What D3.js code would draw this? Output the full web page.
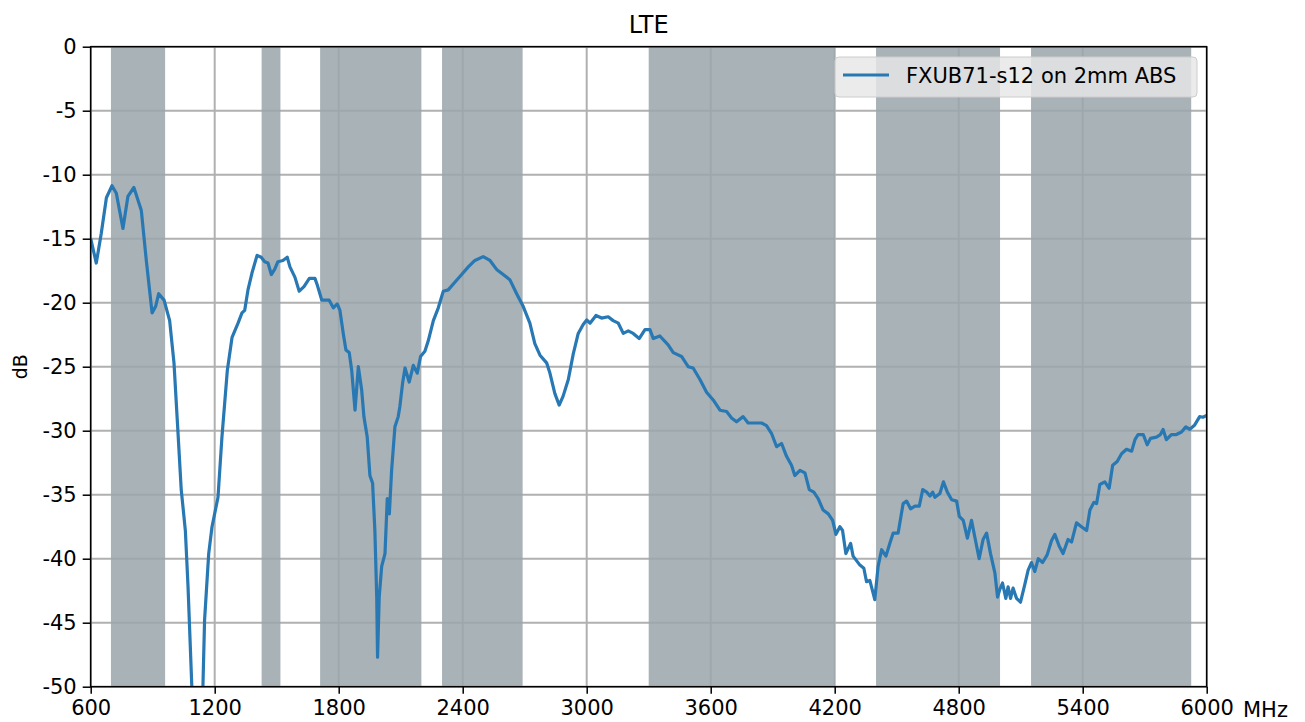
<!DOCTYPE html>
<html>
<head>
<meta charset="utf-8">
<script src="https://cdn.jsdelivr.net/npm/d3@7"></script>
<style>
  body { margin: 0; background: #fff; }
  svg { font-family: "DejaVu Sans", sans-serif; }
</style>
</head>
<body>
<svg width="1305" height="722"></svg>
<script>
// measured curve (MHz, dB)
var freqs = [600, 627, 651, 676, 703, 724, 756, 780, 809, 845, 869, 897, 914, 929, 955, 982, 1003, 1019, 1038, 1058,
  1071, 1090, 1116, 1143, 1151, 1171, 1187, 1216, 1235, 1261, 1284, 1313, 1332, 1345, 1361, 1380, 1405, 1425, 1442, 1458,
  1474, 1490, 1506, 1530, 1551, 1564, 1588, 1609, 1632, 1658, 1685, 1696, 1718, 1754, 1774, 1793, 1806, 1822, 1835, 1851,
  1863, 1879, 1895, 1911, 1922, 1938, 1951, 1964, 1975, 1984, 1988, 1996, 2008, 2024, 2035, 2045, 2056, 2072, 2088, 2096,
  2109, 2121, 2141, 2161, 2180, 2196, 2217, 2233, 2258, 2282, 2306, 2330, 2362, 2395, 2427, 2459, 2499, 2532, 2564, 2596,
  2628, 2661, 2693, 2725, 2749, 2774, 2806, 2822, 2846, 2867, 2886, 2911, 2935, 2959, 2983, 3000, 3016, 3045, 3072, 3104,
  3128, 3153, 3177, 3201, 3225, 3254, 3282, 3306, 3322, 3354, 3394, 3419, 3459, 3491, 3515, 3548, 3580, 3612, 3645, 3677,
  3701, 3725, 3757, 3781, 3814, 3846, 3870, 3894, 3919, 3943, 3967, 3991, 4007, 4032, 4056, 4077, 4099, 4120, 4144, 4169,
  4190, 4206, 4225, 4238, 4254, 4277, 4289, 4322, 4341, 4354, 4370, 4394, 4410, 4427, 4448, 4467, 4483, 4507, 4531, 4548,
  4567, 4588, 4609, 4626, 4645, 4661, 4674, 4685, 4709, 4726, 4745, 4766, 4790, 4803, 4822, 4842, 4862, 4878, 4899, 4918,
  4935, 4954, 4975, 4988, 4999, 5012, 5028, 5039, 5051, 5063, 5080, 5099, 5120, 5136, 5152, 5168, 5185, 5206, 5228, 5249,
  5265, 5286, 5305, 5329, 5346, 5370, 5394, 5419, 5435, 5454, 5467, 5483, 5507, 5528, 5545, 5567, 5588, 5612, 5637, 5653,
  5668, 5693, 5712, 5728, 5757, 5776, 5789, 5805, 5829, 5853, 5878, 5899, 5918, 5942, 5966, 5982, 6000];
var dB = [-15.0, -16.9, -14.6, -11.8, -10.86, -11.45, -14.2, -11.7, -11.0, -12.8, -16.7, -20.8, -20.3, -19.3, -19.8, -21.4, -24.7, -29.2, -34.6, -37.8,
  -42.2, -50.3, -57, -50, -44.8, -39.6, -37.5, -35.2, -30.5, -25.3, -22.7, -21.6, -20.8, -20.6, -19.0, -17.7, -16.3, -16.45, -16.8, -16.9,
  -17.8, -17.4, -16.8, -16.7, -16.45, -17.2, -18.0, -19.1, -18.75, -18.1, -18.1, -18.6, -19.8, -19.8, -20.4, -20.1, -20.6, -22.4, -23.7, -23.9,
  -25.3, -28.4, -25.0, -26.8, -28.9, -30.5, -33.5, -34.1, -37.8, -43.0, -47.7, -43.0, -40.6, -39.6, -35.3, -36.5, -33.1, -29.7, -28.9, -28.1,
  -26.3, -25.1, -26.2, -24.9, -25.5, -24.2, -23.8, -23.0, -21.4, -20.4, -19.1, -19.0, -18.4, -17.8, -17.2, -16.7, -16.4, -16.7, -17.4, -17.8,
  -18.2, -19.3, -20.3, -21.6, -23.2, -24.1, -24.7, -25.5, -27.1, -28.0, -27.3, -26.0, -24.0, -22.4, -21.7, -21.35, -21.6, -21.0, -21.2, -21.1,
  -21.4, -21.6, -22.4, -22.2, -22.4, -22.8, -22.1, -22.1, -22.8, -22.6, -23.3, -23.9, -24.2, -25.0, -25.1, -26.0, -27.0, -27.6, -28.4, -28.5,
  -29.0, -29.3, -28.9, -29.4, -29.4, -29.4, -29.6, -30.2, -31.25, -31.0, -32.0, -32.7, -33.5, -33.1, -33.3, -34.6, -34.8, -35.3, -36.2, -36.5,
  -37.0, -38.1, -37.5, -37.8, -39.6, -38.8, -39.8, -40.5, -40.75, -41.8, -41.7, -43.2, -40.6, -39.3, -39.8, -38.8, -38.0, -38.0, -35.7, -35.5,
  -36.1, -35.9, -35.9, -34.6, -34.8, -35.1, -34.8, -35.2, -34.9, -34.0, -34.8, -35.4, -35.5, -36.7, -37.0, -38.4, -37.0, -38.3, -40.0, -38.5,
  -38.0, -39.6, -41.1, -43.0, -42.4, -41.9, -43.1, -42.2, -43.1, -42.3, -43.1, -43.4, -42.0, -40.9, -40.3, -41.0, -40.0, -40.3, -39.7, -38.6,
  -38.1, -39.0, -39.6, -38.5, -38.7, -37.2, -37.5, -37.8, -36.2, -35.6, -35.7, -34.2, -34.0, -34.5, -32.7, -32.4, -31.8, -31.45, -31.6, -30.7,
  -30.3, -30.3, -31.1, -30.6, -30.5, -30.3, -29.9, -30.7, -30.3, -30.3, -30.1, -29.7, -29.9, -29.55, -28.9, -28.95, -28.8];

// LTE bands (MHz)
var bandStart = [698, 1427, 1710, 2300, 3300, 4400, 5150];
var bandEnd = [960, 1518, 2200, 2690, 4200, 5000, 5925];

var xTicks = [600, 1200, 1800, 2400, 3000, 3600, 4200, 4800, 5400, 6000];
var yTicks = [0, -5, -10, -15, -20, -25, -30, -35, -40, -45, -50];
var seriesName = "FXUB71-s12 on 2mm ABS";

var svg = d3.select("svg"),
    margin = {top: 46.7, right: 98.3, bottom: 35.3, left: 90.7},
    width = +svg.attr("width") - margin.left - margin.right,
    height = +svg.attr("height") - margin.top - margin.bottom;

var x = d3.scaleLinear().domain([600, 6000]).range([0, width]);
var y = d3.scaleLinear().domain([-50, 0]).range([height, 0]);

var g = svg.append("g")
    .attr("transform", "translate(" + margin.left + "," + margin.top + ")");

g.append("clipPath").attr("id", "clip")
  .append("rect").attr("width", width).attr("height", height);

// grid
g.append("g").selectAll("line")
    .data(xTicks)
  .enter().append("line")
    .attr("x1", function(d) { return x(d); })
    .attr("x2", function(d) { return x(d); })
    .attr("y1", 0).attr("y2", height)
    .attr("stroke", "#b0b0b0").attr("stroke-width", 2);

g.append("g").selectAll("line")
    .data(yTicks)
  .enter().append("line")
    .attr("y1", function(d) { return y(d); })
    .attr("y2", function(d) { return y(d); })
    .attr("x1", 0).attr("x2", width)
    .attr("stroke", "#b0b0b0").attr("stroke-width", 2);

// bands
g.append("g").selectAll("rect")
    .data(bandStart)
  .enter().append("rect")
    .attr("x", function(d) { return x(d); })
    .attr("width", function(d, i) { return x(bandEnd[i]) - x(d); })
    .attr("y", 0).attr("height", height)
    .attr("fill", "#9aa5ab").attr("fill-opacity", 0.86);

// curve
var line = d3.line()
    .x(function(d, i) { return x(freqs[i]); })
    .y(function(d) { return y(d); });

g.append("path")
    .datum(dB)
    .attr("clip-path", "url(#clip)")
    .attr("fill", "none")
    .attr("stroke", "#2878b4")
    .attr("stroke-width", 3.2)
    .attr("stroke-linejoin", "round")
    .attr("d", line);

// axes (plain hyphen for minus, like the original)
var fmt = function(d) { return String(d); };
var xAxis = g.append("g")
    .attr("transform", "translate(0," + height + ")")
    .call(d3.axisBottom(x).tickValues(xTicks).tickSize(7).tickPadding(6).tickFormat(fmt));
var yAxis = g.append("g")
    .call(d3.axisLeft(y).tickValues(yTicks).tickSize(8).tickPadding(6).tickFormat(fmt));

[xAxis, yAxis].forEach(function(a) {
  a.select(".domain").remove();
  a.selectAll("line").attr("stroke", "#000").attr("stroke-width", 1.5);
  a.selectAll("text")
    .attr("font-family", "DejaVu Sans")
    .attr("font-size", 21)
    .attr("fill", "#000");
});
xAxis.selectAll("text").attr("dy", "0.72em");

// frame
g.append("rect")
    .attr("width", width).attr("height", height)
    .attr("fill", "none").attr("stroke", "#000").attr("stroke-width", 1.5);

// labels
svg.append("text")
    .attr("x", margin.left + width / 2).attr("y", 33)
    .attr("text-anchor", "middle")
    .attr("font-size", 24)
    .text("LTE");

svg.append("text")
    .attr("transform", "translate(27," + (margin.top + height / 2) + ") rotate(-90)")
    .attr("text-anchor", "middle")
    .attr("font-size", 19)
    .text("dB");

svg.append("text")
    .attr("x", 1243).attr("y", 717)
    .attr("font-size", 21)
    .text("MHz");

// legend
var legend = svg.append("g").attr("transform", "translate(835,57)");
legend.append("rect")
    .attr("width", 362).attr("height", 40).attr("rx", 4)
    .attr("fill", "#e6e7e8").attr("fill-opacity", 0.82)
    .attr("stroke", "#cccccc").attr("stroke-width", 1);
legend.append("line")
    .attr("x1", 8).attr("x2", 54).attr("y1", 18).attr("y2", 18)
    .attr("stroke", "#2878b4").attr("stroke-width", 3);
legend.append("text")
    .attr("x", 71).attr("y", 26)
    .attr("font-size", 21)
    .text(seriesName);
</script>
</body>
</html>
